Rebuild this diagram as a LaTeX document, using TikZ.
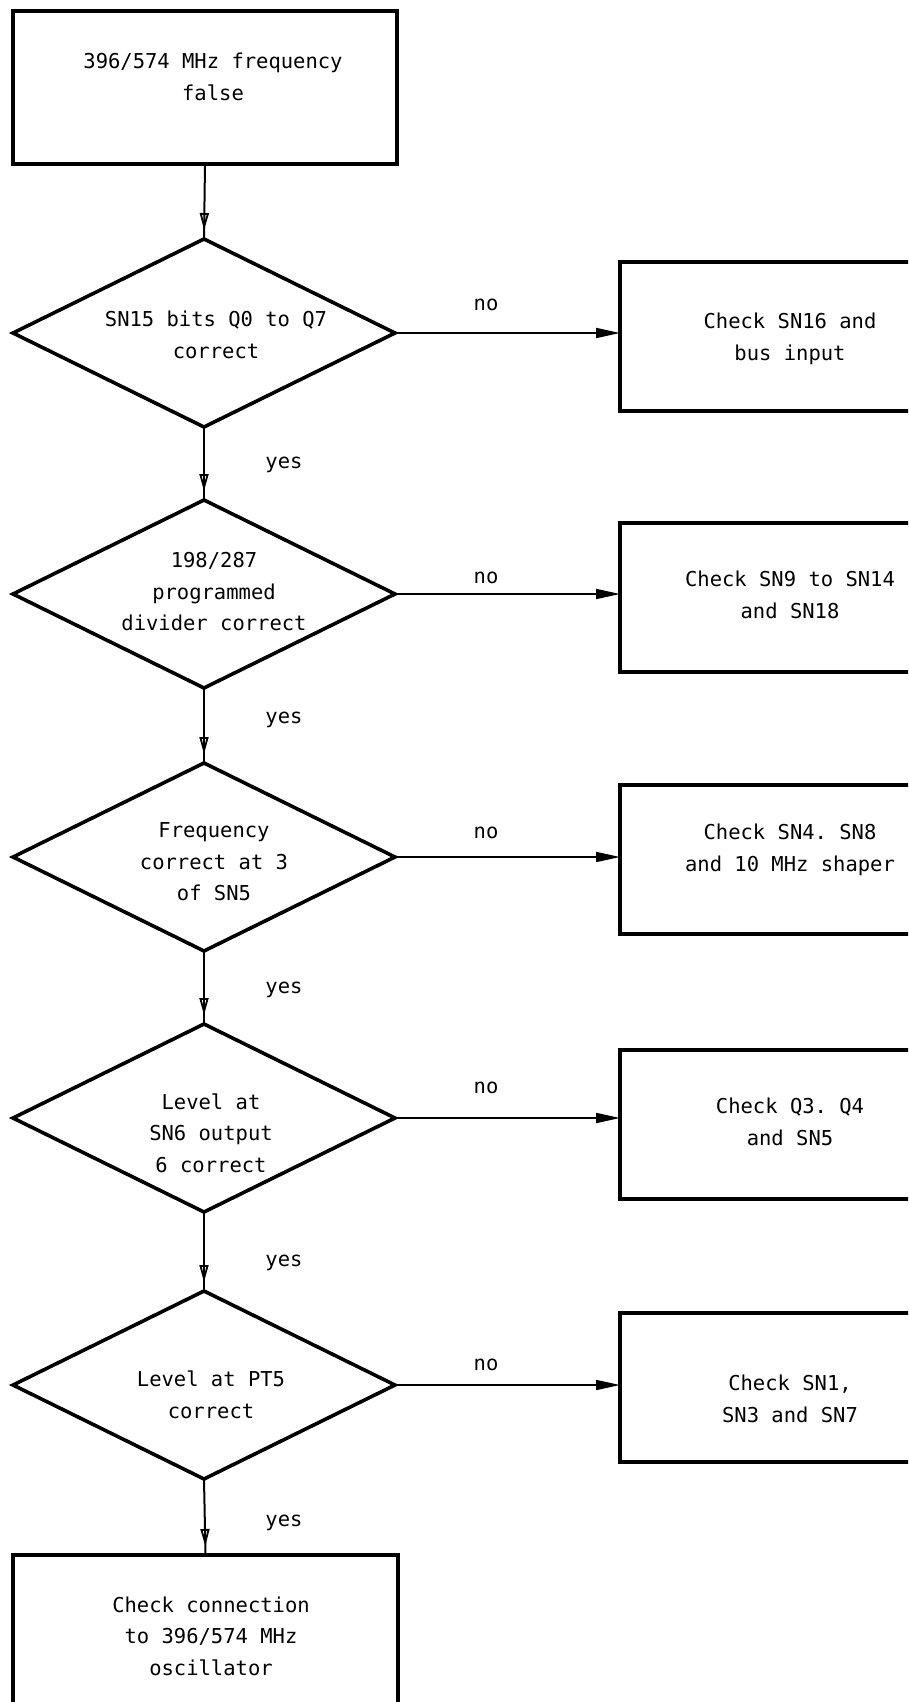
\documentclass[tikz,border=0pt]{standalone}
\usepackage{fontspec}
\setmonofont{DejaVu Sans Mono}
\usetikzlibrary{shapes.geometric,arrows.meta,decorations.markings}
\begin{document}
\begin{tikzpicture}[x=1pt,y=-1pt,
  boxshape/.style={draw,line width=4pt,rectangle,inner sep=0pt,outer sep=0pt},
  decshape/.style={draw,line width=3.6pt,diamond,inner sep=0pt,outer sep=0pt,minimum width=382pt,minimum height=188pt},
  txt/.style={font=\ttfamily\fontsize{20.5}{31.5}\selectfont,align=center,inner sep=0pt},
  noarrow/.style={line width=1.8pt,-{Triangle[length=24pt,width=10pt]}},
  yesarrow/.style={line width=2pt,decoration={markings,mark=at position -9pt with {\arrow[line width=1.8pt]{Triangle[open,length=17pt,width=9pt]}}},postaction={decorate}}
]
\useasboundingbox (0,0) rectangle (908,1702);
\clip (0,0) rectangle (908,1702);
\fill[white] (0,0) rectangle (908,1702);

% start box
\node[boxshape,minimum width=384pt,minimum height=153pt] (start) at (205,87.5) {};
\node[txt] (starttxt) at (213,77) {396/574 MHz frequency\\false};

% decisions
\node[decshape] (d1) at (204,333) {};
\node[txt] (d1txt) at (216,335) {SN15 bits Q0 to Q7\\correct};
\node[decshape] (d2) at (204,594) {};
\node[txt] (d2txt) at (214,592) {198/287\\programmed\\divider correct};
\node[decshape] (d3) at (204,857) {};
\node[txt] (d3txt) at (214,862) {Frequency\\correct at 3\\of SN5};
\node[decshape] (d4) at (204,1118) {};
\node[txt] (d4txt) at (211,1133) {Level at\\SN6 output\\6 correct};
\node[decshape] (d5) at (204,1385) {};
\node[txt] (d5txt) at (211,1395) {Level at PT5\\correct};

% right boxes
\node[boxshape,minimum width=340pt,minimum height=149pt] (b1) at (790,336) {};
\node[txt] (b1txt) at (790,339) {Check SN16 and\\bus input};
\node[boxshape,minimum width=340pt,minimum height=149pt] (b2) at (790,597) {};
\node[txt] (b2txt) at (790,595) {Check SN9 to SN14\\and SN18};
\node[boxshape,minimum width=340pt,minimum height=149pt] (b3) at (790,859) {};
\node[txt] (b3txt) at (790,850) {Check SN4. SN8\\and 10 MHz shaper};
\node[boxshape,minimum width=340pt,minimum height=149pt] (b4) at (790,1124) {};
\node[txt] (b4txt) at (790,1122) {Check Q3. Q4\\and SN5};
\node[boxshape,minimum width=340pt,minimum height=149pt] (b5) at (790,1387) {};
\node[txt] (b5txt) at (790,1399) {Check SN1,\\SN3 and SN7};

% end box
\node[boxshape,minimum width=385pt,minimum height=165pt] (endbox) at (205.5,1637.5) {};
\node[txt] (endtxt) at (211,1636) {Check connection\\to 396/574 MHz\\oscillator};

% vertical connectors
\draw[yesarrow] (start.south) -- (d1.north);
\draw[yesarrow] (d1.south) -- (d2.north);
\draw[yesarrow] (d2.south) -- (d3.north);
\draw[yesarrow] (d3.south) -- (d4.north);
\draw[yesarrow] (d4.south) -- (d5.north);
\draw[yesarrow] (d5.south) -- (endbox.north);

% horizontal connectors
\draw[noarrow] (d1.east) -- (d1.east -| b1.west);
\draw[noarrow] (d2.east) -- (d2.east -| b2.west);
\draw[noarrow] (d3.east) -- (d3.east -| b3.west);
\draw[noarrow] (d4.east) -- (d4.east -| b4.west);
\draw[noarrow] (d5.east) -- (d5.east -| b5.west);

% labels
\node[txt] (y1) at (284,465) {yes};
\node[txt] (y2) at (284,720) {yes};
\node[txt] (y3) at (284,990) {yes};
\node[txt] (y4) at (284,1263) {yes};
\node[txt] (y5) at (284,1523) {yes};
\node[txt] (n1) at (486,305) {no};
\node[txt] (n2) at (486,578) {no};
\node[txt] (n3) at (486,833) {no};
\node[txt] (n4) at (486,1088) {no};
\node[txt] (n5) at (486,1365) {no};
\end{tikzpicture}
\end{document}
